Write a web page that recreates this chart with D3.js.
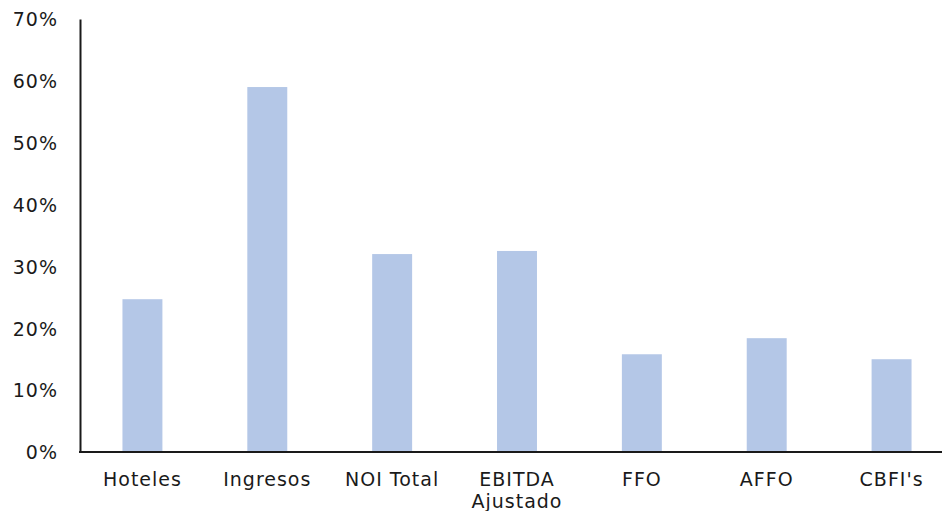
<!DOCTYPE html>
<html>
<head>
<meta charset="utf-8">
<script src="https://cdn.jsdelivr.net/npm/d3@7"></script>
<style>
  html, body { margin: 0; padding: 0; background: #fff; }
  svg text { font-family: "DejaVu Sans", Verdana, sans-serif; font-size: 19px; fill: #1a1a1a; letter-spacing: 1px; }
</style>
</head>
<body>
<svg id="chart" width="942" height="511"></svg>
<script>
// Growth by metric (%)
const categories = ["Hoteles", "Ingresos", "NOI Total", "EBITDA Ajustado", "FFO", "AFFO", "CBFI's"];
const values = [24.7, 59.0, 32.0, 32.5, 15.8, 18.4, 15.0];
const yTicks = [0, 10, 20, 30, 40, 50, 60, 70];

const svg = d3.select("#chart");
const plotLeft = 80, plotRight = 954, plotTop = 19, plotBottom = 452;

const x = d3.scaleBand().domain(categories).range([plotLeft, plotRight]).paddingInner(0.68).paddingOuter(0.34);
const y = d3.scaleLinear().domain([0, 70]).range([plotBottom, plotTop]);

// bars
svg.append("g").selectAll("rect")
  .data(categories.map((c, i) => ({ c, v: values[i] })))
  .join("rect")
  .attr("x", d => x(d.c))
  .attr("width", x.bandwidth())
  .attr("y", d => y(d.v))
  .attr("height", d => y(0) - y(d.v))
  .attr("fill", "#B4C7E7");

// y axis
const yAxis = svg.append("g")
  .attr("transform", `translate(${plotLeft},0)`)
  .call(d3.axisLeft(y).tickValues(yTicks).tickFormat(d => d + "%").tickSize(0).tickPadding(22));
yAxis.select(".domain").attr("stroke", "#1a1a1a").attr("stroke-width", 2);
yAxis.selectAll("text").attr("dy", "0.36em");

// x axis
const xAxis = svg.append("g")
  .attr("transform", `translate(0,${plotBottom})`)
  .call(d3.axisBottom(x).tickSize(0).tickPadding(0));
xAxis.select(".domain").remove();
svg.append("line")
  .attr("x1", plotLeft - 1).attr("x2", 942)
  .attr("y1", plotBottom).attr("y2", plotBottom)
  .attr("stroke", "#1a1a1a").attr("stroke-width", 2);

// category labels, wrapping two-word long names
xAxis.selectAll(".tick text").each(function(d) {
  const t = d3.select(this).text(null).attr("y", 34).attr("dy", null);
  const lines = d === "EBITDA Ajustado" ? ["EBITDA", "Ajustado"] : [d];
  lines.forEach((ln, i) => {
    t.append("tspan").attr("x", 0).attr("dy", i === 0 ? 0 : 22).text(ln);
  });
});
</script>
</body>
</html>
